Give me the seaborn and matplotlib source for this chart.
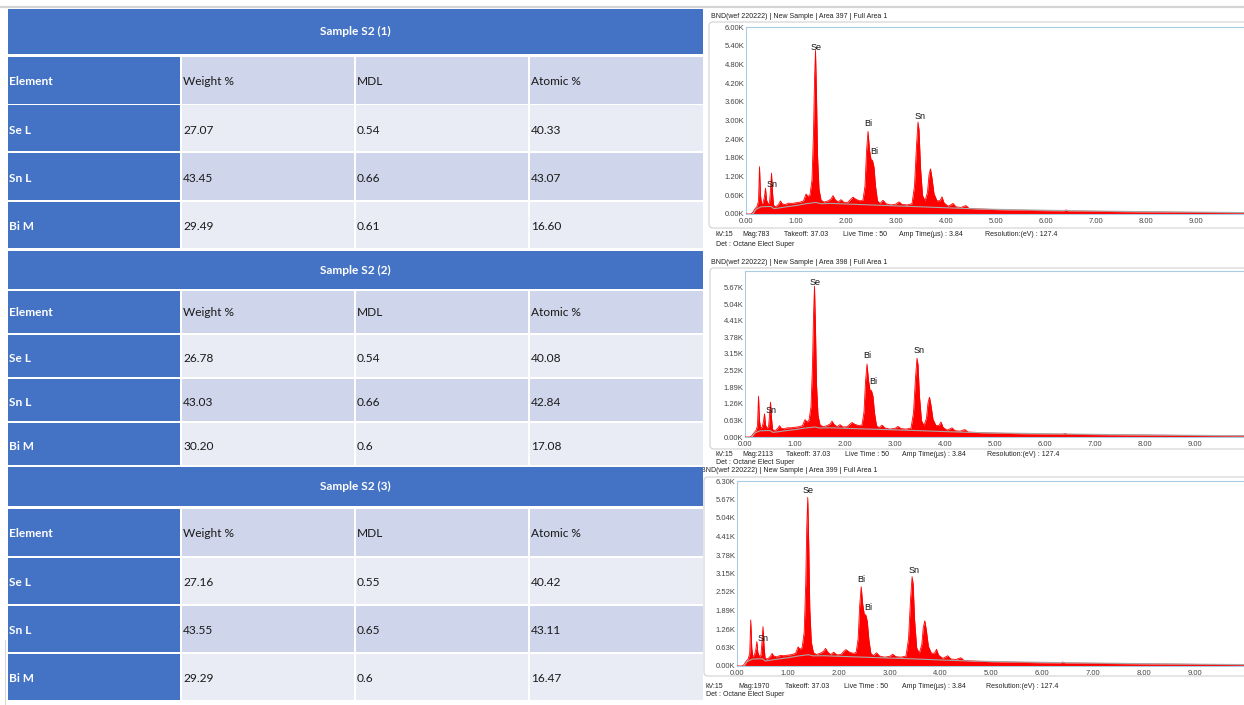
import matplotlib
matplotlib.use("Agg")
import matplotlib.pyplot as plt
from matplotlib.patches import Rectangle, FancyBboxPatch
import seaborn as sns

# ---------------- quantification tables ----------------
SAMPLES = ["Sample S2 (1)", "Sample S2 (2)", "Sample S2 (3)"]
COLUMNS = ["Element", "Weight %", "MDL", "Atomic %"]
ELEMENTS = ["Se L", "Sn L", "Bi M"]
WEIGHT = [["27.07", "43.45", "29.49"],
          ["26.78", "43.03", "30.20"],
          ["27.16", "43.55", "29.29"]]
MDL = [["0.54", "0.66", "0.61"],
       ["0.54", "0.66", "0.6"],
       ["0.55", "0.65", "0.6"]]
ATOMIC = [["40.33", "43.07", "16.60"],
          ["40.08", "42.84", "17.08"],
          ["40.42", "43.11", "16.47"]]

# ---------------- EDS spectra ----------------
AREAS = [397, 398, 399]
MAGS = [783, 2113, 1970]
Y_MAX = [6000, 6300, 6300]
Y_STEP = [600, 630, 630]
Y_TICK_COUNT = [11, 10, 11]
X_TICKS = [0, 1, 2, 3, 4, 5, 6, 7, 8, 9]

ENERGY = [0.00, 0.10, 0.14, 0.18, 0.22, 0.25, 0.27, 0.29, 0.31, 0.34,
          0.37, 0.39, 0.41, 0.44, 0.47, 0.49, 0.51, 0.53, 0.55, 0.58,
          0.62, 0.66, 0.69, 0.72, 0.78, 0.85, 0.92, 1.00, 1.08, 1.15,
          1.20, 1.24, 1.28, 1.32, 1.35, 1.37, 1.39, 1.41, 1.43, 1.46,
          1.50, 1.56, 1.64, 1.70, 1.74, 1.78, 1.84, 1.90, 1.96, 2.04,
          2.10, 2.14, 2.20, 2.28, 2.34, 2.38, 2.41, 2.44, 2.47, 2.50,
          2.53, 2.56, 2.59, 2.63, 2.68, 2.74, 2.80, 2.90, 3.00, 3.06,
          3.12, 3.22, 3.32, 3.37, 3.41, 3.44, 3.46, 3.49, 3.53, 3.58,
          3.63, 3.66, 3.69, 3.72, 3.76, 3.82, 3.88, 3.92, 3.96, 4.04,
          4.10, 4.14, 4.20, 4.30, 4.36, 4.40, 4.46, 4.70, 5.00, 5.50,
          6.00, 6.35, 6.40, 6.45, 7.00, 8.00, 9.00, 10.00]

COUNTS_397 = [0, 0, 60, 170, 240, 420, 1520, 600, 330, 360,
              560, 830, 450, 330, 360, 780, 1310, 700, 290, 230,
              260, 330, 420, 330, 300, 350, 340, 360, 380, 420,
              640, 560, 620, 1100, 2600, 4300, 5250, 3800, 1900, 800,
              450, 380, 420, 480, 590, 470, 380, 460, 370, 380,
              480, 540, 470, 420, 450, 900, 2000, 2650, 2050, 1750,
              1720, 1500, 900, 420, 340, 440, 330, 290, 320, 390,
              310, 290, 330, 900, 2200, 2950, 2700, 1500, 600, 420,
              700, 1250, 1450, 1150, 650, 420, 430, 550, 360, 250,
              300, 340, 230, 210, 250, 270, 180, 160, 140, 120,
              105, 100, 130, 95, 85, 65, 50, 40]

COUNTS_398 = [0, 0, 55, 160, 250, 430, 1550, 620, 340, 370,
              580, 880, 460, 340, 370, 800, 1320, 720, 300, 240,
              270, 340, 430, 340, 310, 350, 350, 370, 390, 430,
              660, 570, 640, 1150, 2750, 4600, 5720, 4100, 2000, 820,
              460, 390, 430, 490, 600, 480, 390, 470, 380, 390,
              490, 550, 480, 430, 460, 950, 2100, 2770, 2150, 1780,
              1760, 1540, 920, 430, 350, 450, 340, 300, 330, 400,
              320, 300, 340, 920, 2250, 2990, 2750, 1530, 620, 430,
              720, 1300, 1510, 1200, 670, 430, 440, 570, 370, 260,
              310, 350, 240, 220, 260, 280, 190, 165, 145, 125,
              110, 105, 135, 100, 90, 70, 55, 45]

COUNTS_399 = [0, 0, 50, 160, 240, 440, 1570, 610, 330, 360,
              560, 830, 450, 330, 360, 800, 1340, 720, 290, 230,
              270, 340, 430, 340, 310, 360, 350, 370, 390, 430,
              650, 570, 630, 1150, 2800, 4700, 5740, 4100, 1950, 820,
              460, 390, 440, 500, 600, 480, 390, 470, 380, 390,
              500, 560, 480, 430, 460, 930, 2050, 2700, 2100, 1760,
              1740, 1520, 910, 430, 350, 450, 340, 300, 330, 400,
              320, 300, 340, 930, 2300, 3040, 2800, 1550, 620, 430,
              730, 1320, 1540, 1220, 670, 430, 440, 570, 370, 260,
              310, 350, 240, 220, 260, 280, 190, 165, 145, 125,
              110, 105, 135, 100, 90, 70, 55, 45]

BG_ENERGY = [0.14, 0.20, 0.30, 0.45, 0.50, 0.56, 0.65, 0.80, 1.00, 1.20,
             1.40, 1.50, 1.70, 2.00, 2.50, 3.00, 3.50, 4.00, 4.50, 5.00,
             6.00, 7.00, 8.00, 9.00, 10.00]
BG_397 = [0, 150, 230, 240, 240, 170, 190, 230, 270, 330,
          370, 330, 340, 320, 290, 260, 230, 200, 170, 150,
          120, 95, 75, 60, 45]
BG_398 = [0, 155, 235, 245, 245, 175, 195, 235, 280, 340,
          380, 340, 350, 330, 300, 270, 240, 205, 175, 155,
          125, 100, 80, 62, 48]
BG_399 = [0, 150, 235, 245, 245, 170, 195, 235, 280, 340,
          385, 345, 350, 330, 300, 270, 240, 205, 175, 155,
          125, 100, 80, 62, 48]

PEAK_NAMES = ["Sn", "Se", "Bi", "Bi", "Sn"]
PEAK_LABEL_KEV = [0.52, 1.40, 2.45, 2.57, 3.48]
PEAK_LABEL_Y = [[960, 5330, 2910, 2000, 3140],
                [995, 5880, 3110, 2100, 3300],
                [940, 5960, 2930, 2000, 3260]]

SPECTRA = [COUNTS_397, COUNTS_398, COUNTS_399]
BACKGROUNDS = [BG_397, BG_398, BG_399]

# ---------------- styling ----------------
sns.set_theme(style="white")
plt.rcParams["font.family"] = ["Lato", "DejaVu Sans"]

W, H = 1244, 705
BLUE = "#4472C4"
BAND_DARK = "#CFD5EA"
BAND_LIGHT = "#E9EBF5"
RED = "#FF0000"
SPEC_FONT = ["Liberation Sans", "DejaVu Sans"]

fig = plt.figure(figsize=(W / 100, H / 100), dpi=100)
canvas = fig.add_axes([0, 0, 1, 1])
canvas.set_xlim(0, W)
canvas.set_ylim(H, 0)
canvas.axis("off")

# thin grey rule along the top edge
canvas.plot([0, W], [7, 7], color="#D4D4D4", lw=1.6, zorder=0)

# ---------------- tables ----------------
ROW_EDGES = [
    [(9, 54), (57, 104), (105, 151), (153, 200), (202, 248)],
    [(251, 289), (291, 333), (335, 377), (379, 421), (423, 465)],
    [(467, 506), (509, 556), (558, 604), (606, 652), (654, 700)],
]
COL_EDGES = [(8, 180), (182, 354), (356, 528), (530, 703)]
TABLE_FS = 8.6


def cell(x0, x1, y0, y1, color):
    canvas.add_patch(Rectangle((x0, y0), x1 - x0, y1 - y0, facecolor=color,
                               edgecolor="none", zorder=5))


for t, rows in enumerate(ROW_EDGES):
    # title row
    y0, y1 = rows[0]
    cell(COL_EDGES[0][0], COL_EDGES[-1][1], y0, y1, BLUE)
    canvas.text((COL_EDGES[0][0] + COL_EDGES[-1][1]) / 2, (y0 + y1) / 2,
                SAMPLES[t], ha="center", va="center", color="white",
                fontsize=TABLE_FS, fontweight="bold", zorder=6)
    # header row
    y0, y1 = rows[1]
    for c, (x0, x1) in enumerate(COL_EDGES):
        cell(x0, x1, y0, y1, BLUE if c == 0 else BAND_DARK)
        canvas.text(x0 + 1, (y0 + y1) / 2 + 1, COLUMNS[c], ha="left",
                    va="center", color="white" if c == 0 else "#1A1A1A",
                    fontsize=TABLE_FS,
                    fontweight="bold" if c == 0 else "normal", zorder=6)
    # element rows
    for r, el in enumerate(ELEMENTS):
        y0, y1 = rows[2 + r]
        band = BAND_LIGHT if r % 2 == 0 else BAND_DARK
        values = [el, WEIGHT[t][r], MDL[t][r], ATOMIC[t][r]]
        for c, (x0, x1) in enumerate(COL_EDGES):
            cell(x0, x1, y0, y1, BLUE if c == 0 else band)
            canvas.text(x0 + 1, (y0 + y1) / 2 + 2, values[c], ha="left",
                        va="center", color="white" if c == 0 else "#1A1A1A",
                        fontsize=TABLE_FS,
                        fontweight="bold" if c == 0 else "normal", zorder=6)

# faint left border of the page
canvas.plot([5, 5], [640, 705], color="#D9D9D9", lw=0.8, zorder=0)

# ---------------- spectra panels ----------------
PANELS = [
    dict(left=746, top=27, bottom=214, kev=50.0, frame=(709, 22, 228),
         head=(711, 16), foot_y=(235, 244),
         foot_x=[716, 742, 784, 843, 899, 985]),
    dict(left=745, top=271, bottom=437, kev=50.0, frame=(710, 268, 449),
         head=(711, 262), foot_y=(455, 463),
         foot_x=[716, 742, 786, 845, 902, 987]),
    dict(left=737, top=481, bottom=666, kev=50.9, frame=(704, 477, 676),
         head=(701, 471), foot_y=(687, 695),
         foot_x=[706, 738, 785, 844, 902, 986]),
]

for i, p in enumerate(PANELS):
    fx, fy0, fy1 = p["frame"]
    canvas.add_patch(FancyBboxPatch((fx, fy0), W + 20 - fx, fy1 - fy0,
                                    boxstyle="round,pad=0,rounding_size=4",
                                    facecolor="white", edgecolor="#D6D6D6",
                                    lw=0.9, zorder=1))
    canvas.text(p["head"][0], p["head"][1],
                f"BND(wef 220222) | New Sample | Area {AREAS[i]} | Full Area 1",
                ha="left", va="center", fontsize=5, color="#222222",
                family=SPEC_FONT, zorder=2)
    foot = ["kV:15", f"Mag:{MAGS[i]}", "Takeoff: 37.03", "Live Time : 50",
            "Amp Time(µs) : 3.84", "Resolution:(eV) : 127.4"]
    for x, s in zip(p["foot_x"], foot):
        canvas.text(x, p["foot_y"][0], s, ha="left", va="center", fontsize=5,
                    color="#222222", family=SPEC_FONT, zorder=2)
    canvas.text(p["foot_x"][0], p["foot_y"][1], "Det : Octane Elect Super",
                ha="left", va="center", fontsize=5, color="#222222",
                family=SPEC_FONT, zorder=2)

    ax = fig.add_axes([p["left"] / W, 1 - p["bottom"] / H,
                       10 * p["kev"] / W, (p["bottom"] - p["top"]) / H])
    ax.set_facecolor("white")
    counts = SPECTRA[i]
    ax.fill_between(ENERGY, counts, 0, color=RED, linewidth=0, zorder=2)
    sns.lineplot(x=ENERGY, y=counts, ax=ax, color=RED, linewidth=0.6, zorder=3)
    sns.lineplot(x=BG_ENERGY, y=BACKGROUNDS[i], ax=ax, color="#A8A8A8",
                 linewidth=0.8, zorder=4)
    for name, xk, yk in zip(PEAK_NAMES, PEAK_LABEL_KEV, PEAK_LABEL_Y[i]):
        ax.text(xk, yk, name, ha="center", va="center", fontsize=6.5,
                color="#111111", family=SPEC_FONT, zorder=5)

    ax.set_xlim(0, 10)
    ax.set_ylim(0, Y_MAX[i])
    yt = [k * Y_STEP[i] for k in range(Y_TICK_COUNT[i])]
    ax.set_yticks(yt)
    ax.set_yticklabels([f"{v / 1000:.2f}K" for v in yt])
    ax.set_xticks(X_TICKS)
    ax.set_xticklabels([f"{v:.2f}" for v in X_TICKS])
    ax.tick_params(axis="y", length=0, pad=1, labelsize=5.5,
                   labelcolor="#444444")
    ax.tick_params(axis="x", length=0, pad=3, labelsize=5.5,
                   labelcolor="#444444")
    for lab in ax.get_xticklabels() + ax.get_yticklabels():
        lab.set_family(SPEC_FONT)
    ax.set_xlabel("")
    ax.set_ylabel("")
    for side in ("left", "top", "bottom"):
        ax.spines[side].set_color("#A9CCE3")
        ax.spines[side].set_linewidth(0.8)
    ax.spines["right"].set_visible(False)
    ax.grid(False)

fig.savefig("out.png", dpi=100)
